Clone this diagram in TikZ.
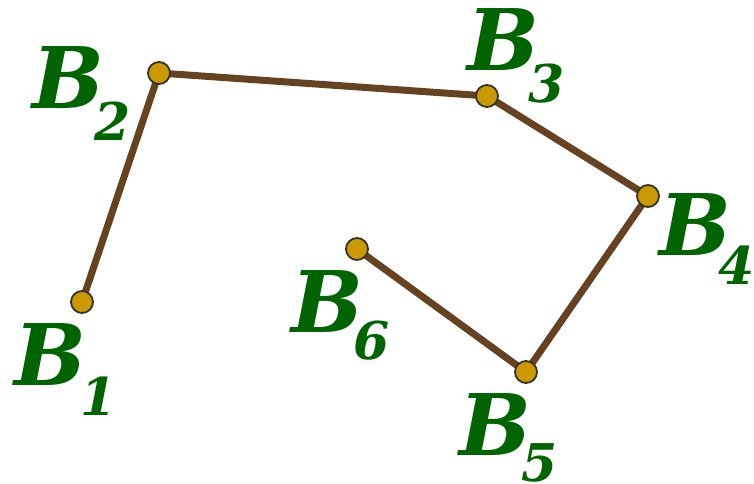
\documentclass[tikz,border=0pt]{standalone}
\usepackage{fontspec}
\newfontfamily\lblfont{DejaVu Serif}
\definecolor{lblgreen}{RGB}{0,100,0}
\definecolor{seg}{RGB}{101,67,33}
\definecolor{dotfill}{RGB}{204,153,0}
\definecolor{dotline}{RGB}{51,51,51}
\tikzset{
  pt/.style={circle,draw=dotline,line width=1.8pt,fill=dotfill,minimum size=22pt,inner sep=0pt},
  seglink/.style={draw=seg,line width=7pt},
  bigB/.style={anchor=base west,inner sep=0pt,text=lblgreen,font=\lblfont\bfseries\itshape\fontsize{85}{85}\selectfont},
  subn/.style={anchor=base west,inner sep=0pt,text=lblgreen,font=\lblfont\bfseries\itshape\fontsize{52}{52}\selectfont}
}
\begin{document}
\begin{tikzpicture}[x=1pt,y=-1pt]
\useasboundingbox (0,0) rectangle (754,483);
\coordinate (b1) at (82,302);
\coordinate (b2) at (159,73);
\coordinate (b3) at (487,96);
\coordinate (b4) at (648,196);
\coordinate (b5) at (526,372);
\coordinate (b6) at (357,249);
\draw[seglink] (b1) -- (b2) -- (b3) -- (b4) -- (b5) -- (b6);
\node[pt] (p1) at (b1) {};
\node[pt] (p2) at (b2) {};
\node[pt] (p3) at (b3) {};
\node[pt] (p4) at (b4) {};
\node[pt] (p5) at (b5) {};
\node[pt] (p6) at (b6) {};
\node[bigB] (l1) at (14,385) {B};
\node[subn] (s1) at (80,415) {1};
\node[bigB] (l2) at (32,108) {B};
\node[subn] (s2) at (94,140) {2};
\node[bigB] (l3) at (467,70) {B};
\node[subn] (s3) at (528,102) {3};
\node[bigB] (l4) at (659,255) {B};
\node[subn] (s4) at (718,284) {4};
\node[bigB] (l5) at (459,455) {B};
\node[subn] (s5) at (521,481) {5};
\node[bigB] (l6) at (291,332) {B};
\node[subn] (s6) at (353,359) {6};
\end{tikzpicture}
\end{document}
